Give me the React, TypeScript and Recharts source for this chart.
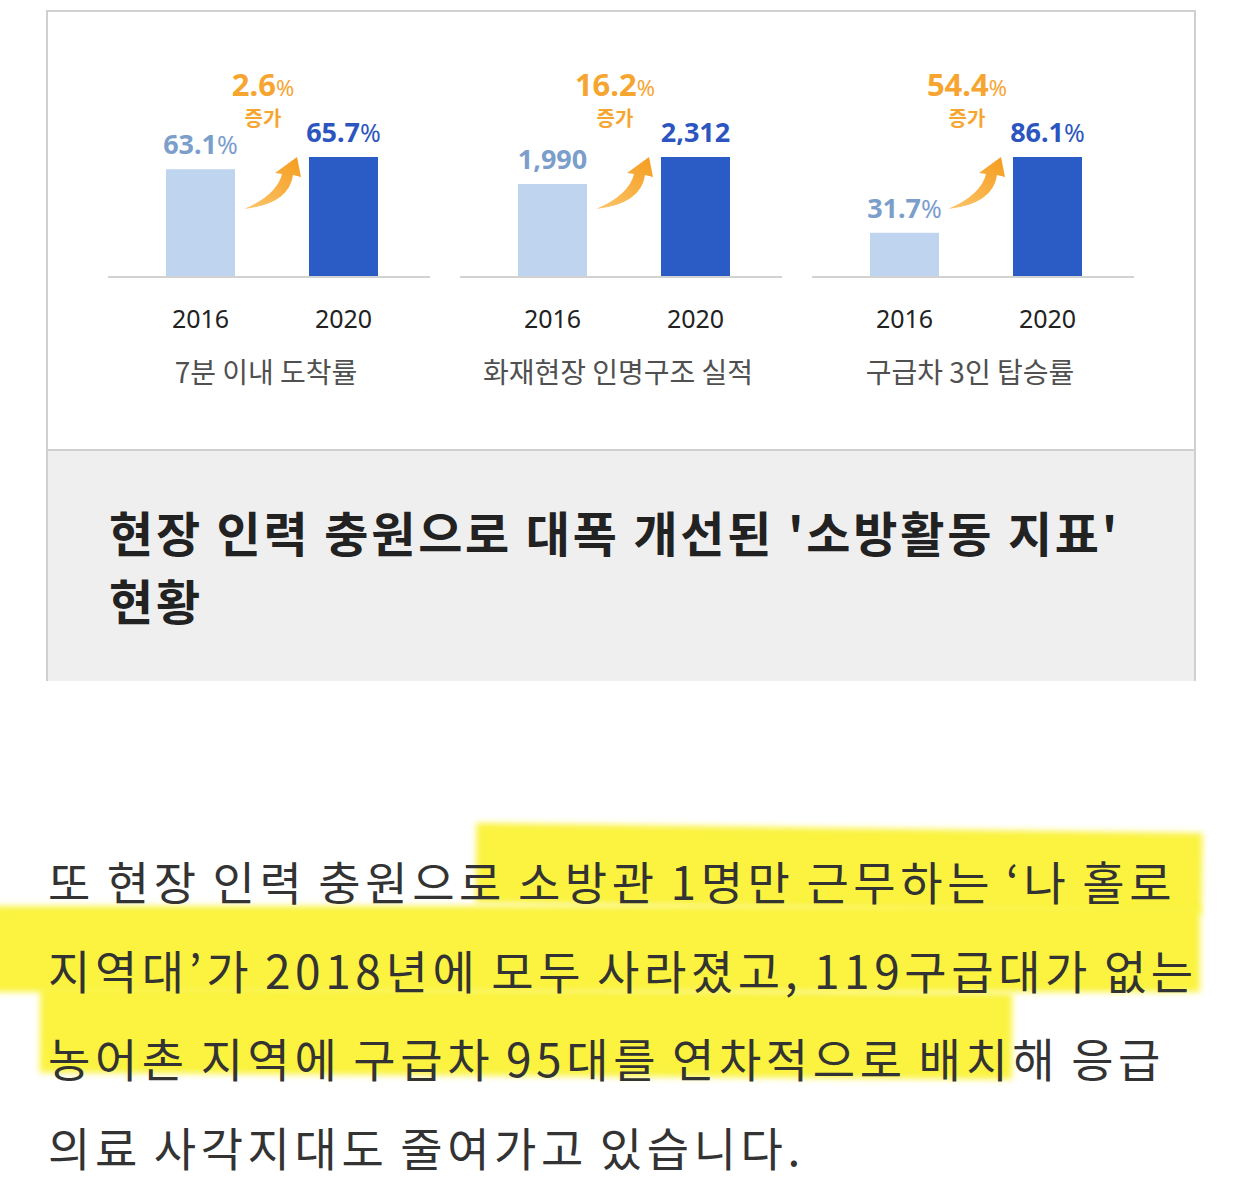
import React from "react";
import { BarChart, Bar, XAxis, YAxis, Cell, LabelList } from "recharts";

const YEARS = ["2016", "2020"];
const PANEL_TITLES = ["7분 이내 도착률", "화재현장 인명구조 실적", "구급차 3인 탑승률"];
const VALUES_2016 = [63.1, 1990, 31.7];
const VALUES_2020 = [65.7, 2312, 86.1];
const GROWTH = [2.6, 16.2, 54.4];
const UNITS = ["%", "", "%"];
// the source graphic does not start its bars at zero
const AXIS_MIN = [40, 880, 0];

const TITLE_LINES = ["현장 인력 충원으로 대폭 개선된 '소방활동 지표'", "현황"];
const BODY_LINES = [
  "또 현장 인력 충원으로 소방관 1명만 근무하는 ‘나 홀로",
  "지역대’가 2018년에 모두 사라졌고, 119구급대가 없는",
  "농어촌 지역에 구급차 95대를 연차적으로 배치해 응급",
  "의료 사각지대도 줄여가고 있습니다.",
];

const BAR_COLORS = ["#bfd5ef", "#2b5cc6"];
const LABEL_COLORS = ["#7b9ecb", "#2c55bf"];
const ORANGE = "#f6a531";
const KR = "'Noto Sans CJK KR', 'Noto Sans', sans-serif";
const NUM = "'Noto Sans', sans-serif";

function box(p: any) {
  const vb = p.viewBox || {};
  return {
    x: p.x ?? vb.x,
    y: p.y ?? vb.y,
    width: p.width ?? vb.width,
  };
}

function ValueLabel(props: any) {
  const { x, y, width } = box(props);
  const { value, index, unit } = props;
  const text = unit ? Number(value).toFixed(1) : Number(value).toLocaleString("en-US");
  return (
    <text
      x={x + width / 2}
      y={y - 15}
      textAnchor="middle"
      fill={LABEL_COLORS[index]}
      fontFamily={NUM}
      fontWeight="bold"
      fontSize={27}
    >
      {text}
      {unit ? (
        <tspan fontWeight="normal" fontSize={25}>
          {unit}
        </tspan>
      ) : null}
    </text>
  );
}

function GrowthMark(props: any) {
  const { x, y } = box(props);
  const { index, growth, gid } = props;
  if (index !== 1) return null;
  const tx = x - 12;
  const cx = x - 46;
  return (
    <g>
      <defs>
        <linearGradient id={gid} x1="0" y1="1" x2="1" y2="0">
          <stop offset="0%" stopColor="#fbc66e" />
          <stop offset="100%" stopColor="#f59c1c" />
        </linearGradient>
      </defs>
      <path
        transform={`translate(${tx},${y})`}
        d="M 0 0 L 4 20 L -4 18 Q -8 47 -53 52 Q -20 38 -15 17 L -22 16 Z"
        fill={`url(#${gid})`}
      />
      <text x={cx} y={y - 61} textAnchor="middle" fill={ORANGE} fontFamily={NUM} fontWeight="bold" fontSize={31}>
        {growth.toFixed(1)}
        <tspan fontWeight="normal" fontSize={22}>
          %
        </tspan>
      </text>
      <text x={cx} y={y - 31} textAnchor="middle" fill={ORANGE} fontFamily={KR} fontWeight="bold" fontSize={20}>
        증가
      </text>
    </g>
  );
}

function YearTick(props: any) {
  const { x, y, payload } = props;
  return (
    <text x={x} y={y + 43} textAnchor="middle" fill="#222" fontFamily={NUM} fontSize={25}>
      {payload.value}
    </text>
  );
}

function PanelTitle(props: any) {
  const vb = props.viewBox || {};
  return (
    <text x={vb.x + vb.width / 2 - 3} y={vb.y + 106} textAnchor="middle" fill="#505050" fontFamily={KR} fontSize={28}>
      {props.text}
    </text>
  );
}

function Panel({ i }: { i: number }) {
  const data = YEARS.map((year, k) => ({ year, value: k === 0 ? VALUES_2016[i] : VALUES_2020[i] }));
  return (
    <BarChart width={322} height={370} data={data} margin={{ top: 117, right: 0, bottom: 0, left: 0 }}>
      <XAxis
        dataKey="year"
        height={133}
        padding={{ left: 21, right: 15 }}
        axisLine={{ stroke: "#d2d2d2", strokeWidth: 2 }}
        tickLine={false}
        tick={<YearTick />}
        interval={0}
        label={<PanelTitle text={PANEL_TITLES[i]} />}
      />
      <YAxis hide type="number" scale="linear" domain={[AXIS_MIN[i], "dataMax"]} />
      <Bar dataKey="value" barSize={69} isAnimationActive={false}>
        {data.map((d, k) => (
          <Cell key={d.year} fill={BAR_COLORS[k]} />
        ))}
        <LabelList dataKey="value" content={<ValueLabel unit={UNITS[i]} />} />
        <LabelList dataKey="value" content={<GrowthMark growth={GROWTH[i]} gid={`arrow-grad-${i}`} />} />
      </Bar>
    </BarChart>
  );
}

export default function App() {
  return (
    <div
      style={{
        position: "absolute",
        left: 0,
        top: 0,
        width: 1242,
        height: 1201,
        background: "#fff",
        overflow: "hidden",
      }}
    >
      {/* chart card */}
      <div
        style={{
          position: "absolute",
          left: 46,
          top: 10,
          width: 1150,
          height: 671,
          border: "2px solid #d0d0d0",
          boxSizing: "border-box",
          background: "#fff",
        }}
      />
      <div style={{ position: "absolute", left: 108, top: 40, display: "flex", gap: 30 }}>
        {PANEL_TITLES.map((t, i) => (
          <Panel key={t} i={i} />
        ))}
      </div>
      <div
        style={{
          position: "absolute",
          left: 48,
          top: 449,
          width: 1146,
          height: 230,
          borderTop: "2px solid #d0d0d0",
          background: "#efefef",
        }}
      />
      {TITLE_LINES.map((line, k) => (
        <div
          key={line}
          style={{
            position: "absolute",
            left: 109,
            top: 499 + k * 68,
            height: 64,
            lineHeight: "64px",
            fontFamily: KR,
            fontWeight: 700,
            fontSize: 48,
            letterSpacing: 2.8,
            color: "#222",
            whiteSpace: "nowrap",
          }}
        >
          {line}
        </div>
      ))}

      {/* marker highlight */}
      <div style={{ position: "absolute", left: 476, top: 828, width: 726, height: 80, background: "#fbf33f", filter: "blur(3px)", transform: "rotate(0.8deg)" }} />
      <div style={{ position: "absolute", left: -6, top: 906, width: 1206, height: 86, background: "#fbf33f", filter: "blur(3px)" }} />
      <div style={{ position: "absolute", left: 40, top: 990, width: 972, height: 86, background: "#fbf33f", filter: "blur(3px)", transform: "rotate(0.4deg)" }} />

      {BODY_LINES.map((line, k) => (
        <div
          key={line}
          style={{
            position: "absolute",
            left: 48,
            top: 880 - 40 + k * 88.5,
            height: 80,
            lineHeight: "80px",
            fontFamily: KR,
            fontSize: 46,
            letterSpacing: 4.6,
            wordSpacing: -3,
            color: "#333",
            whiteSpace: "nowrap",
          }}
        >
          {line}
        </div>
      ))}
    </div>
  );
}
